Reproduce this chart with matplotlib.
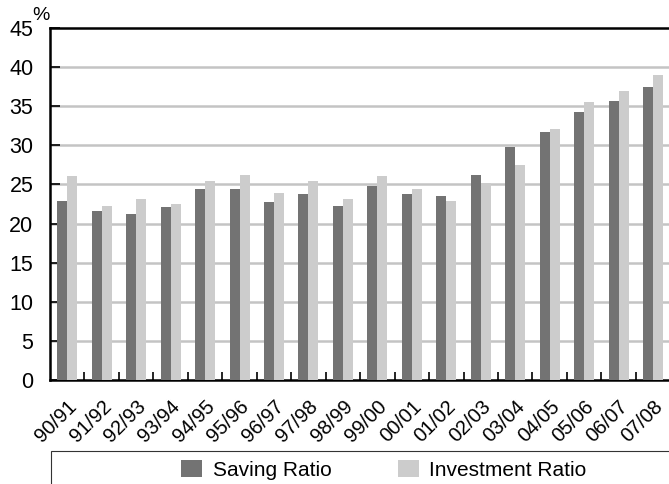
import matplotlib
matplotlib.use("Agg")
import matplotlib.pyplot as plt
import numpy as np
from matplotlib.patches import Rectangle

categories = ["90/91", "91/92", "92/93", "93/94", "94/95", "95/96", "96/97", "97/98", "98/99",
              "99/00", "00/01", "01/02", "02/03", "03/04", "04/05", "05/06", "06/07", "07/08"]
saving = [22.9, 21.6, 21.2, 22.1, 24.4, 24.4, 22.7, 23.8, 22.2,
          24.8, 23.8, 23.5, 26.2, 29.8, 31.7, 34.2, 35.7, 37.5]
investment = [26.1, 22.2, 23.1, 22.5, 25.5, 26.2, 23.9, 25.4, 23.2,
              26.1, 24.4, 22.9, 25.2, 27.5, 32.1, 35.5, 37.0, 39.0]
yticks = [0, 5, 10, 15, 20, 25, 30, 35, 40, 45]

plt.rcParams['font.family'] = ['Liberation Sans', 'DejaVu Sans']

fig = plt.figure(figsize=(6.69, 4.84), dpi=100)
ax = fig.add_axes([50/669, 1-380/484, 1-50/669 + 0.002, (380-28)/484])

x = np.arange(len(categories))
bw = 0.29
dark = "#737373"
light = "#cccccc"
ax.bar(x - bw/2, saving, bw, color=dark, zorder=3, label="Saving Ratio")
ax.bar(x + bw/2, investment, bw, color=light, zorder=3, label="Investment Ratio")

ax.set_ylim(0, 45)
ax.set_xlim(-0.5, len(categories) - 0.5)
ax.set_yticks(yticks)
ax.set_yticklabels([str(v) for v in yticks], fontsize=15.5)
ax.tick_params(axis='y', direction='in', length=7, width=1.2, pad=12, colors='black')
for v in yticks[1:-1]:
    ax.axhline(v, color="#c4c4c4", lw=1.8, zorder=1)

ax.set_xticks(x + 0.5, minor=False)
ax.set_xticklabels([])
ax.tick_params(axis='x', direction='in', length=6, width=1.2)
ax.set_xticks(x, minor=True)
ax.set_xticklabels(categories, minor=True, rotation=45, ha='right', va='top',
                   rotation_mode='anchor', fontsize=14.5)
ax.tick_params(axis='x', which='minor', length=0, pad=12)

for s in ['left', 'top', 'bottom']:
    ax.spines[s].set_linewidth(1.8)
    ax.spines[s].set_color('black')
ax.spines['right'].set_visible(False)

fig.text(41/669, 1-16/484, "%", fontsize=14, ha='center', va='center')

# legend box
fig.patches.append(Rectangle((51/669, -0.1), 1.0, (484-451)/484 + 0.1,
                             transform=fig.transFigure, fill=False,
                             edgecolor='#333333', lw=0.8))
leg = fig.legend(loc='center', bbox_to_anchor=(384/669, 1-470/484), ncol=2,
                 frameon=False, fontsize=15, handlelength=1.0, handleheight=0.9,
                 columnspacing=3.2, handletextpad=0.5)

fig.savefig("out.png", dpi=100)
